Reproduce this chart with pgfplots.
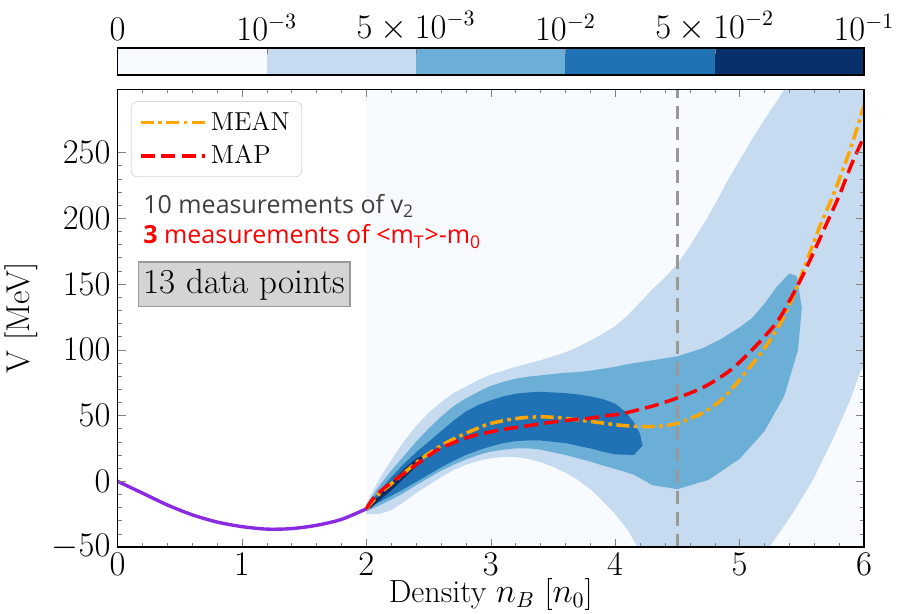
\documentclass[border=0pt]{standalone}
\usepackage{fontspec}
\usepackage{pgfplots}
\pgfplotsset{compat=1.18}
\newfontfamily\annfont{Open Sans}

\definecolor{cb0}{HTML}{F7FBFF}
\definecolor{cb1}{HTML}{C6DBEF}
\definecolor{cb2}{HTML}{6BAED6}
\definecolor{cb3}{HTML}{2171B5}
\definecolor{cb4}{HTML}{08306B}
\definecolor{vpurple}{HTML}{8A2BE2}
\definecolor{morange}{HTML}{FFA500}
\definecolor{vline}{HTML}{999999}
\definecolor{txtgray}{HTML}{404040}

\begin{document}
\begin{tikzpicture}
\useasboundingbox (-58.75pt,-33.5pt) rectangle (389.75pt,273.5pt);

% discrete colour bar
\begin{axis}[
    at={(0pt,236pt)}, anchor=south west,
    width=373.25pt, height=13.5pt, scale only axis,
    xmin=0, xmax=5, ymin=0, ymax=1,
    ytick=\empty,
    xtick={0,1,2,3,4,5},
    xticklabels={$0$,$10^{-3}$,$5\times10^{-3}$,$10^{-2}$,$5\times10^{-2}$,$10^{-1}$},
    xtick pos=upper, xticklabel pos=upper,
    tick align=inside, major tick length=3pt,
    axis on top,
    axis line style={line width=0.7pt},
    tick label style={font=\fontsize{16}{18}\selectfont},
]
\addplot[fill=cb0, draw=none] coordinates {(0,0) (1,0) (1,1) (0,1)};
\addplot[fill=cb1, draw=none] coordinates {(1,0) (2,0) (2,1) (1,1)};
\addplot[fill=cb2, draw=none] coordinates {(2,0) (3,0) (3,1) (2,1)};
\addplot[fill=cb3, draw=none] coordinates {(3,0) (4,0) (4,1) (3,1)};
\addplot[fill=cb4, draw=none] coordinates {(4,0) (5,0) (5,1) (4,1)};
\end{axis}

\begin{axis}[
    at={(0pt,0pt)}, anchor=south west,
    width=373.25pt, height=228.85pt, scale only axis,
    xmin=0, xmax=6, ymin=-50, ymax=298,
    xtick={0,1,2,3,4,5,6},
    ytick={-50,0,50,100,150,200,250},
    minor x tick num=4, minor y tick num=4,
    tick align=inside, xtick pos=both, ytick pos=both,
    major tick length=4pt, minor tick length=2pt,
    axis on top,
    axis line style={line width=0.7pt},
    tick label style={font=\fontsize{16}{18}\selectfont},
    xticklabel style={inner ysep=1.5pt, yshift=-1.5pt},
    label style={font=\fontsize{16.5}{19}\selectfont},
    xlabel={Density $n_B$ [$n_0$]},
    xlabel style={font=\fontsize{16}{18}\selectfont, yshift=3.5pt},
    ylabel={V [MeV]},
    legend style={at={(rel axis cs:0.018,0.974)}, anchor=north west,
        draw=black!15, rounded corners=3pt, fill=white,
        font=\fontsize{13}{15}\selectfont, row sep=2pt,
        inner xsep=4pt, inner ysep=3pt},
    legend cell align=left,
    legend image code/.code={\draw[#1] (0pt,0pt) -- (24pt,0pt);
        \path (0pt,0pt) -- (32pt,0pt);},
]

% posterior density levels
\addplot[fill=cb0, draw=none, forget plot] coordinates {(2,-50) (6,-50) (6,298) (2,298)};

\addplot[fill=cb1, draw=none, forget plot] coordinates {
(2.0,-17) (2.05,-8) (2.1,1) (2.2,16) (2.3,30) (2.4,42) (2.5,52) (2.6,60)
(2.7,67) (2.8,72) (2.9,77) (3.0,81) (3.1,84) (3.2,87) (3.3,89.5) (3.4,92)
(3.5,95) (3.6,98) (3.7,102) (3.8,107) (3.9,112) (4.0,118) (4.1,126) (4.2,136)
(4.3,146) (4.4,155) (4.5,165) (4.6,179) (4.7,194) (4.8,210) (4.9,228) (5.0,244)
(5.1,260) (5.2,275) (5.3,289) (5.36,298) (6,298) (6,88)
(5.97,83) (5.89,62) (5.75,32) (5.59,1) (5.43,-24) (5.24,-50)
(4.18,-50) (4.1,-37) (4.0,-25) (3.9,-15) (3.8,-6) (3.7,1) (3.6,6.5) (3.5,11)
(3.4,14.5) (3.3,17) (3.2,18.5) (3.1,18.5) (3.0,17.5) (2.9,15.5) (2.8,12.5)
(2.7,8.5) (2.6,3) (2.5,-3) (2.4,-9) (2.3,-16) (2.2,-22) (2.1,-25) (2.0,-25)};

\addplot[fill=cb2, draw=none, forget plot] coordinates {
(2.0,-18) (2.1,-4) (2.2,8) (2.3,19) (2.4,30) (2.5,40) (2.6,49) (2.7,57)
(2.8,63) (2.9,68) (3.0,72.5) (3.1,75.5) (3.2,78) (3.3,79.5) (3.4,80.5)
(3.5,81.5) (3.6,82.5) (3.7,83) (3.8,84) (3.9,85.5) (4.0,87) (4.1,89)
(4.3,92) (4.5,95) (4.7,101) (4.85,108) (5.0,117) (5.1,124) (5.2,135)
(5.3,148) (5.4,158) (5.46,156) (5.5,132) (5.47,100) (5.36,65) (5.2,38)
(5.0,17) (4.75,1) (4.5,-6) (4.3,-3) (4.15,5) (4.05,8) (3.9,12) (3.8,15)
(3.7,17.5) (3.6,20) (3.5,22) (3.4,24) (3.3,25) (3.2,25) (3.1,24) (3.0,22.5)
(2.9,20) (2.8,16.5) (2.7,12.5) (2.6,8) (2.5,2.5) (2.4,-3) (2.3,-9)
(2.2,-14) (2.1,-18.5) (2.0,-23)};

\addplot[fill=cb3, draw=none, forget plot] coordinates {
(2.0,-19) (2.1,-8) (2.2,3) (2.3,13) (2.4,22) (2.5,30) (2.6,38) (2.7,46)
(2.8,53) (2.9,58) (3.0,61.5) (3.1,64.5) (3.2,66.5) (3.3,67.5) (3.4,68)
(3.5,67.5) (3.6,67) (3.7,66) (3.8,64.5) (3.9,62.5) (4.0,59) (4.08,53)
(4.15,45) (4.2,36) (4.22,27) (4.15,20) (4.0,20.5) (3.9,22.5) (3.8,25)
(3.7,27) (3.6,29) (3.5,30) (3.4,31) (3.3,31) (3.2,30.5) (3.1,29) (3.0,26.5)
(2.9,23.5) (2.8,20) (2.7,15.5) (2.6,10.5) (2.5,5) (2.4,-0.5) (2.3,-6)
(2.2,-11) (2.1,-16) (2.0,-21)};

\addplot[fill=cb4, draw=none, forget plot] coordinates {
(2.03,-18) (2.1,-11) (2.2,-1) (2.3,9) (2.4,17) (2.46,20) (2.42,13)
(2.3,2) (2.2,-7) (2.1,-15) (2.03,-21)};

% vertical marker
\addplot[vline, line width=1.65pt, dash pattern=on 6.7pt off 4pt, forget plot]
  coordinates {(4.5,-50) (4.5,298)};

% low density constraint
\addplot[vpurple, line width=1.7pt, smooth, forget plot] coordinates {
(0,0) (0.2,-9) (0.4,-18) (0.6,-25.5) (0.8,-31) (1.0,-34.5) (1.2,-36.4)
(1.4,-36) (1.6,-33.5) (1.8,-29) (2.0,-21)};

\addplot[morange, line width=1.75pt, smooth,
  dash pattern=on 6.5pt off 2.2pt on 1.8pt off 2.2pt] coordinates {
(2,-21) (2.1,-10) (2.2,-2) (2.3,6) (2.44,17) (2.6,27) (2.71,32.5)
(2.85,38.5) (2.98,43.4) (3.1,46) (3.25,48.2) (3.41,49) (3.55,48.3)
(3.65,47.2) (3.8,45.5) (3.92,44) (4.04,42.6) (4.15,41.8) (4.3,41.6)
(4.42,42.5) (4.5,44) (4.6,47.5) (4.71,52.3) (4.83,60) (4.95,71.5)
(5.05,83) (5.16,96) (5.25,108) (5.35,124) (5.45,145) (5.55,170)
(5.65,195) (5.75,217) (5.85,242) (5.93,264) (6.0,286)};
\addlegendentry{MEAN}

\addplot[red, line width=1.75pt, smooth,
  dash pattern=on 7pt off 3.2pt] coordinates {
(2,-21) (2.07,-11.5) (2.2,-1) (2.31,6.4) (2.45,16) (2.58,24.3) (2.72,30)
(2.85,34.4) (3.0,37.5) (3.11,39.6) (3.25,41.5) (3.38,43.4) (3.5,45)
(3.65,46.7) (3.8,48) (3.92,49.7) (4.04,51) (4.13,53) (4.31,57.4)
(4.49,63) (4.71,71.5) (4.92,84) (5.11,100.8) (5.3,121) (5.4,137)
(5.5,155) (5.6,175) (5.7,196) (5.8,217) (5.9,241) (6.0,262)};
\addlegendentry{MAP}

% annotations
\node[anchor=base west, inner sep=0pt, text=txtgray,
  font=\annfont\fontsize{12.5}{14}\selectfont]
  at (axis cs:0.205,203.5) {10 measurements of v\textsubscript{2}};
\node[anchor=base west, inner sep=0pt, text=red,
  font=\annfont\fontsize{12.5}{14}\selectfont]
  at (axis cs:0.205,180.5) {{\bfseries 3} measurements of <m\textsubscript{T}>-m\textsubscript{0}};
\node[fill=black!17, draw=black!40, line width=0.7pt, inner xsep=2.5pt,
  minimum height=18pt, font=\fontsize{17.5}{19}\selectfont]
  at (axis cs:1.02,149.7) {13 data points};
\end{axis}
\end{tikzpicture}
\end{document}
